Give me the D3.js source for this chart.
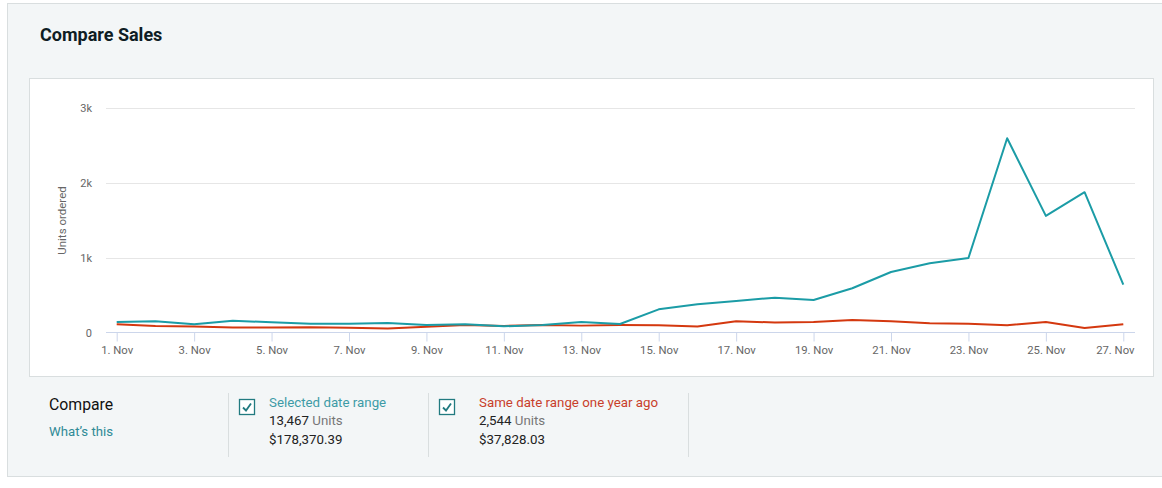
<!DOCTYPE html>
<html><head><meta charset="utf-8">
<script src="https://cdn.jsdelivr.net/npm/d3@7/dist/d3.min.js"></script>
<style>
html,body{margin:0;padding:0;background:#fff;}
svg{display:block;font-family:Roboto,"Noto Sans",sans-serif;}
</style></head>
<body><svg id="c" width="1162" height="488"></svg>
<script>
const days = ["1","2","3","4","5","6","7","8","9","10","11","12","13","14","15","16","17","18","19","20","21","22","23","24","25","26","27"];
const selectedUnits = [140,150,110,158,137,118,118,128,100,110,83,100,140,114,310,377,422,466,435,592,810,926,997,2600,1560,1877,640];
const lastYearUnits = [112,88,80,66,66,70,62,54,76,100,88,100,92,100,98,80,150,134,142,168,152,124,116,98,142,60,112];
const xTickLabels = ["1. Nov","3. Nov","5. Nov","7. Nov","9. Nov","11. Nov","13. Nov","15. Nov","17. Nov","19. Nov","21. Nov","23. Nov","25. Nov","27. Nov"];
const yTickValues = [0,1000,2000,3000];
const yTickLabels = ["0","1k","2k","3k"];
const seriesNames = ["Selected date range","Same date range one year ago"];
const seriesUnits = ["13,467","2,544"];
const seriesSales = ["$178,370.39","$37,828.03"];

const teal = "#1b9ca6", red = "#d4380f";
const svg = d3.select("#c");

// outer panel
svg.append("rect").attr("x",7.5).attr("y",3.5).attr("width",1160).attr("height",473)
  .attr("fill","#f3f6f7").attr("stroke","#d9dedf");
svg.append("text").attr("x",40).attr("y",41).attr("font-size",18).attr("font-weight",700)
  .attr("fill","#0f1d24").text("Compare Sales");
// chart box
svg.append("rect").attr("x",29.5).attr("y",78.5).attr("width",1124).attr("height",298)
  .attr("fill","#fff").attr("stroke","#d9dedf");

const x = d3.scaleLinear().domain([1,27]).range([116.7,1123.3]);
const y = d3.scaleLinear().domain([0,3000]).range([332.5,108.3]);
const plotL = 106, plotR = 1135;

// gridlines
const g = svg.append("g");
g.selectAll("line.grid").data(yTickValues.filter(v=>v>0)).join("line")
  .attr("x1",plotL).attr("x2",plotR).attr("y1",d=>Math.round(y(d))+0.5).attr("y2",d=>Math.round(y(d))+0.5)
  .attr("stroke","#e6e6e6");

// y axis labels
const yAxis = d3.axisLeft(y).tickValues(yTickValues).tickSize(0).tickPadding(0)
  .tickFormat((d,i)=>yTickLabels[i]);
const ya = svg.append("g").attr("transform","translate(92,0)").call(yAxis);
ya.select(".domain").remove();
ya.selectAll("text").attr("font-size",11).attr("fill","#666").attr("font-family","Roboto,sans-serif").attr("dy","0.32em");

svg.append("text").attr("transform","translate(65.5,220.5) rotate(-90)").attr("text-anchor","middle")
  .attr("font-size",11.5).attr("fill","#666").text("Units ordered");

// x axis
const tickDays = xTickLabels.map(s=>parseInt(s));
const xAxis = d3.axisBottom(x).tickValues(tickDays).tickSize(9).tickPadding(4)
  .tickFormat((d,i)=>xTickLabels[i]);
const xa = svg.append("g").attr("transform","translate(0,332.5)").call(xAxis);
xa.select(".domain").attr("d",`M${plotL},0H${plotR}`).attr("stroke","#ccd6eb");
xa.selectAll(".tick line").attr("stroke","#ccd6eb");
xa.selectAll("text").attr("font-size",11.3).attr("fill","#666").attr("font-family","Roboto,sans-serif");
// keep edge labels inside the plot area (justify)
xa.selectAll(".tick").each(function(d){
  const t = d3.select(this).select("text");
  const w = t.node().getComputedTextLength();
  const cx = x(d);
  if (cx + w/2 > plotR) t.attr("text-anchor","end").attr("x", plotR - 1 - cx);
});

// lines
const line = d3.line().x((d,i)=>x(+days[i])).y(d=>y(d));
svg.append("path").datum(lastYearUnits).attr("d",line).attr("fill","none").attr("stroke",red).attr("stroke-width",2).attr("stroke-linejoin","round");
svg.append("path").datum(selectedUnits).attr("d",line).attr("fill","none").attr("stroke",teal).attr("stroke-width",2).attr("stroke-linejoin","round");

// legend area
svg.append("text").attr("x",49).attr("y",409.5).attr("font-size",15.8).attr("fill","#111").text("Compare");
svg.append("text").attr("x",49).attr("y",435.5).attr("font-size",13.2).attr("fill","#2f8a96").text("What\u2019s this");
[228.5,428.5,688.5].forEach(xx=>{
  svg.append("line").attr("x1",xx).attr("x2",xx).attr("y1",393).attr("y2",457).attr("stroke","#d9dedf");
});
const lx = [239,439];
const tx0 = [269,479];
const labelColors = ["#3d9ba6","#c8402a"];
seriesNames.forEach((name,i)=>{
  const bx = lx[i];
  svg.append("rect").attr("x",bx+0.5).attr("y",399.5).attr("width",15).attr("height",15)
    .attr("fill","#fff").attr("stroke","#217a80").attr("stroke-width",1.3);
  svg.append("path").attr("d",`M${bx+4},${407.5} L${bx+7},${410.5} L${bx+12},${403.5}`)
    .attr("fill","none").attr("stroke","#217a80").attr("stroke-width",1.8);
  const tx = tx0[i];
  svg.append("text").attr("x",tx).attr("y",407).attr("font-size",13.3).attr("fill",labelColors[i]).text(name);
  const t2 = svg.append("text").attr("x",tx).attr("y",425).attr("font-size",13.3).attr("fill","#222");
  t2.append("tspan").text(seriesUnits[i]+" ");
  t2.append("tspan").attr("fill","#777").text("Units");
  svg.append("text").attr("x",tx).attr("y",443.5).attr("font-size",13.3).attr("fill","#222").text(seriesSales[i]);
});
</script></body></html>
